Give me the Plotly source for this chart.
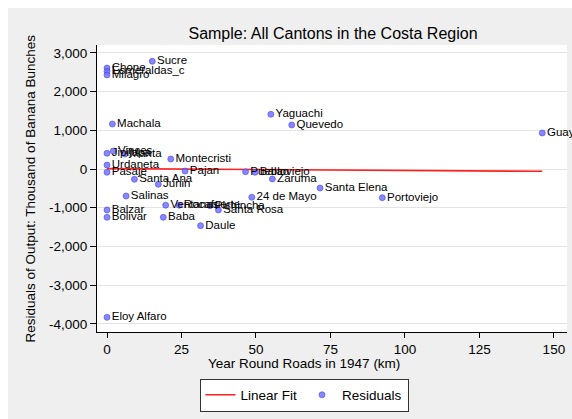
import plotly.graph_objects as go

# ---- data ----
cantons = ["Sucre", "Chone", "Esmeraldas_c", "Milagro", "Machala", "Vinces", "Jipijapa",
           "Manta", "Montecristi", "Urdaneta", "Pasaje", "Pajan", "Santa Ana", "Junin",
           "Salinas", "Ventanas", "Rocafuerte", "Pichincha", "Santa Rosa", "Balzar",
           "Bolivar", "Baba", "Daule", "Yaguachi", "Quevedo", "Puebloviejo", "Balao",
           "Zaruma", "Santa Elena", "24 de Mayo", "Portoviejo", "Guayaquil", "Eloy Alfaro"]
roads_km = [15.2, 0, 0, 0, 1.8, 2.1, 0,
            6.0, 21.4, 0, 0, 26.2, 9.2, 17.2,
            6.4, 19.7, 24.2, 34.6, 37.4, 0,
            0, 18.9, 31.4, 55.0, 62.0, 46.5, 49.7,
            55.5, 71.5, 48.6, 92.4, 146.1, 0]
residuals = [2783, 2610, 2525, 2430, 1163, 465, 405,
             388, 258, 103, -85, -52, -266, -395,
             -698, -935, -935, -948, -1059, -1059,
             -1249, -1249, -1465, 1413, 1137, -70, -86,
             -258, -491, -731, -741, 930, -3832]
fit_x = [0, 146.1]
fit_y = [10, -60]

x_ticks = [0, 25, 50, 75, 100, 125, 150]
y_ticks = [3000, 2000, 1000, 0, -1000, -2000, -3000, -4000]
y_tick_labels = ["3,000", "2,000", "1,000", "0", "-1,000", "-2,000", "-3,000", "-4,000"]

FONT = "Liberation Sans, Arial, sans-serif"

fig = go.Figure()
fig.add_trace(go.Scatter(
    x=fit_x, y=fit_y, mode="lines", name="Linear Fit",
    line=dict(color="#ff2020", width=1.6),
))
fig.add_trace(go.Scatter(
    x=roads_km, y=residuals, mode="markers+text", name="Residuals",
    text=cantons, textposition="middle right",
    textfont=dict(family=FONT, size=11.5, color="black"),
    marker=dict(size=6, color="rgba(105,105,255,0.8)",
                line=dict(color="rgba(70,70,230,1)", width=0.6)),
    cliponaxis=False,
))

# plot area in pixels: x 97..567, y 45..332
W, H = 572, 419
L, R, T, B = 97, 567, 45, 332
pw, ph = R - L, B - T

def px_x(p):
    return (p - L) / pw

def px_y(p):
    return (B - p) / ph

shapes = [
    # white outer strips (top and left) over gray paper
    dict(type="rect", xref="paper", yref="paper", layer="below",
         x0=px_x(0), x1=px_x(W + 5), y0=px_y(8), y1=px_y(-5),
         fillcolor="white", line=dict(width=0)),
    dict(type="rect", xref="paper", yref="paper", layer="below",
         x0=px_x(-5), x1=px_x(8), y0=px_y(W), y1=px_y(-5),
         fillcolor="white", line=dict(width=0)),
]

annotations = [
    dict(text="Residuals of Output: Thousand of Banana Bunches", textangle=-90,
         xref="paper", yref="paper", x=px_x(30), y=px_y((T + B) / 2),
         xanchor="center", yanchor="middle", showarrow=False,
         font=dict(family=FONT, size=13.5, color="black")),
    dict(text="Year Round Roads in 1947 (km)",
         xref="paper", yref="paper", x=px_x(304), y=px_y(363),
         xanchor="center", yanchor="middle", showarrow=False,
         font=dict(family=FONT, size=13.5, color="black")),
]

fig.update_layout(
    width=W, height=H,
    margin=dict(l=L, r=W - R, t=T, b=H - B, autoexpand=False),
    paper_bgcolor="#efefef",
    plot_bgcolor="white",
    font=dict(family=FONT, size=13.5, color="black"),
    title=dict(text="Sample: All Cantons in the Costa Region",
               x=333 / W, xanchor="center",
               y=1 - 33 / H, yanchor="middle",
               font=dict(family=FONT, size=16, color="black")),
    showlegend=True,
    legend=dict(orientation="h", x=px_x(304), y=px_y(378.5),
                xanchor="center", yanchor="top",
                bgcolor="white", bordercolor="#333333", borderwidth=1,
                font=dict(family=FONT, size=13.5, color="black"),
                itemwidth=30, tracegroupgap=0),
    shapes=shapes,
    annotations=annotations,
)

fig.update_xaxes(
    range=[-3.36, 154.4], tickvals=x_ticks, ticks="outside", ticklen=5,
    tickcolor="black", showline=True, linecolor="black", linewidth=1,
    showgrid=False, zeroline=False, mirror=False,
    tickfont=dict(family=FONT, size=13.5, color="black"),
)
fig.update_yaxes(
    range=[-4212, 3204], tickvals=y_ticks, ticktext=y_tick_labels,
    ticks="outside", ticklen=6, tickcolor="black",
    showline=True, linecolor="black", linewidth=1,
    showgrid=True, gridcolor="#e3e3e3", gridwidth=1.3, zeroline=False,
    tickfont=dict(family=FONT, size=13.5, color="black"),
)

fig.write_html("out.html")
